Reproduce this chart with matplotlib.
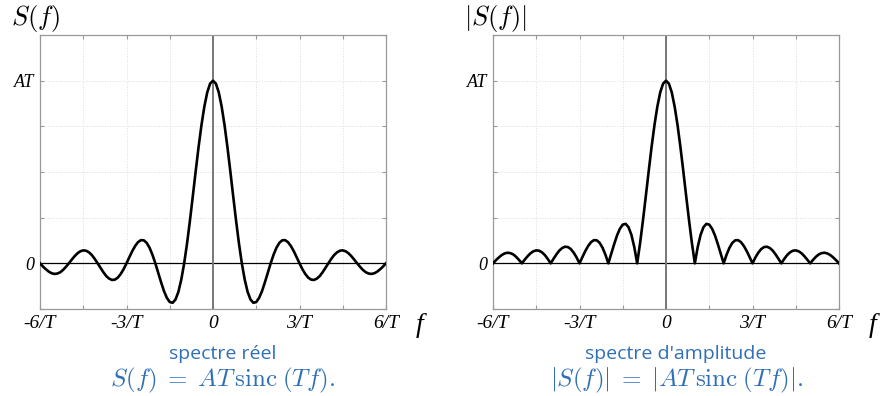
import numpy as np
import matplotlib.pyplot as plt

# S(f)/AT lu sur la courbe, f = 0 .. 6/T par pas de 0.1/T (courbe symetrique)
f_half = [0.0, 0.1, 0.2, 0.3, 0.4, 0.5, 0.6, 0.7, 0.8, 0.9,
          1.0, 1.1, 1.2, 1.3, 1.4, 1.5, 1.6, 1.7, 1.8, 1.9,
          2.0, 2.1, 2.2, 2.3, 2.4, 2.5, 2.6, 2.7, 2.8, 2.9,
          3.0, 3.1, 3.2, 3.3, 3.4, 3.5, 3.6, 3.7, 3.8, 3.9,
          4.0, 4.1, 4.2, 4.3, 4.4, 4.5, 4.6, 4.7, 4.8, 4.9,
          5.0, 5.1, 5.2, 5.3, 5.4, 5.5, 5.6, 5.7, 5.8, 5.9, 6.0]
s_half = [1.000, 0.984, 0.936, 0.858, 0.757, 0.637, 0.505, 0.368, 0.234, 0.109,
          0.000, -0.089, -0.156, -0.198, -0.216, -0.212, -0.189, -0.152, -0.104, -0.052,
          0.000, 0.047, 0.085, 0.112, 0.126, 0.127, 0.116, 0.095, 0.067, 0.034,
          0.000, -0.032, -0.058, -0.078, -0.089, -0.091, -0.084, -0.070, -0.049, -0.025,
          0.000, 0.024, 0.045, 0.060, 0.069, 0.071, 0.066, 0.055, 0.039, 0.020,
          0.000, -0.019, -0.036, -0.049, -0.056, -0.058, -0.054, -0.045, -0.032, -0.017,
          0.000]

xtick_pos = [-6, -3, 0, 3, 6]
xtick_lab = ['-6/T', '-3/T', '0', '3/T', '6/T']
ytick_lab = {0: '0', 1: 'AT'}

titles = [r'$S(f)$', r'$|S(f)|$']
captions = ['spectre réel', "spectre d'amplitude"]
formulas = [r'$S(f)\;=\;AT\,\mathrm{sinc}\;(Tf).$',
            r'$|S(f)|\;=\;|AT\,\mathrm{sinc}\;(Tf)|.$']

f = np.concatenate([-np.array(f_half[::-1]), np.array(f_half[1:])])
s = np.concatenate([np.array(s_half[::-1]), np.array(s_half[1:])])
series = [s, np.abs(s)]

plt.rcParams['mathtext.fontset'] = 'cm'
blue = '#2f6fb5'
serif = {'family': 'Liberation Serif', 'style': 'italic'}

fig = plt.figure(figsize=(8.84, 3.96), dpi=100)
lefts = [40 / 884, 493 / 884]
centers = [223 / 884, 676 / 884]

for i in range(2):
    ax = fig.add_axes([lefts[i], 1 - 309 / 396, 346 / 884, 274 / 396])
    ax.plot(f, series[i], color='black', lw=1.9, zorder=3)
    ax.axhline(0, color='black', lw=0.9, zorder=2)
    ax.axvline(0, color='#777777', lw=1.4, zorder=2)
    ax.set_xlim(-6, 6)
    ax.set_ylim(-0.25, 1.25)

    ax.set_xticks(np.arange(-6, 6.1, 1.5))
    ax.set_xticklabels([xtick_lab[xtick_pos.index(v)] if v in xtick_pos else ''
                        for v in np.arange(-6, 6.1, 1.5)], fontdict=serif, fontsize=14)
    yt = np.arange(-0.25, 1.26, 0.25)
    ax.set_yticks(yt)
    ax.set_yticklabels([ytick_lab.get(v, '') for v in yt], fontdict=serif, fontsize=13)
    ax.tick_params(direction='in', length=3, color='#999999', top=True, right=True,
                   pad=4)
    ax.grid(True, color='#dddddd', lw=0.7, ls=':')
    for sp in ax.spines.values():
        sp.set_color('#999999')
        sp.set_linewidth(0.9)

    fig.text(lefts[i] - 29 / 884, 1 - 18 / 396, titles[i], fontsize=19, va='center', ha='left')
    fig.text(lefts[i] + 376 / 884, 1 - 325 / 396, 'f', fontdict=serif, fontsize=20,
             va='center', ha='left')
    fig.text(centers[i], 1 - 354 / 396, captions[i], color=blue, fontsize=14,
             family='Open Sans', ha='center', va='center')
    fig.text(centers[i], 1 - 380 / 396, formulas[i], color=blue, fontsize=18,
             ha='center', va='center')

plt.savefig('out.png', dpi=100)
